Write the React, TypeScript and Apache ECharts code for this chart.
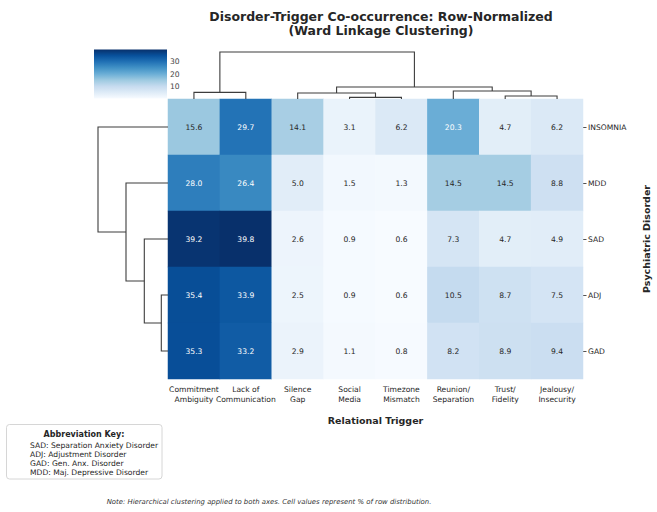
import React, { useEffect, useRef } from "react";
import * as echarts from "echarts";

// ---- data ----
const triggers = [
  "Commitment\nAmbiguity",
  "Lack of\nCommunication",
  "Silence\nGap",
  "Social\nMedia",
  "Timezone\nMismatch",
  "Reunion/\nSeparation",
  "Trust/\nFidelity",
  "Jealousy/\nInsecurity",
];
const disorders = ["INSOMNIA", "MDD", "SAD", "ADJ", "GAD"];
const insomniaRow = [15.6, 29.7, 14.1, 3.1, 6.2, 20.3, 4.7, 6.2];
const mddRow = [28.0, 26.4, 5.0, 1.5, 1.3, 14.5, 14.5, 8.8];
const sadRow = [39.2, 39.8, 2.6, 0.9, 0.6, 7.3, 4.7, 4.9];
const adjRow = [35.4, 33.9, 2.5, 0.9, 0.6, 10.5, 8.7, 7.5];
const gadRow = [35.3, 33.2, 2.9, 1.1, 0.8, 8.2, 8.9, 9.4];
const matrix = [insomniaRow, mddRow, sadRow, adjRow, gadRow];

// linkage: [childA, childB, distance]; leaves are in display order
const colLinkage = [
  [3, 4, 1.6],
  [6, 7, 3.0],
  [2, 8, 6.0],
  [0, 1, 6.6],
  [5, 9, 8.0],
  [10, 12, 12.0],
  [11, 13, 47.0],
];
const rowLinkage = [
  [3, 4, 6.7],
  [2, 5, 23.7],
  [1, 6, 42.0],
  [0, 7, 70.0],
];
const colorbarTicks = [10, 20, 30];
const abbreviations = [
  "SAD: Separation Anxiety Disorder",
  "ADJ: Adjustment Disorder",
  "GAD: Gen. Anx. Disorder",
  "MDD: Maj. Depressive Disorder",
];

const BLUES = ["#f7fbff", "#deebf7", "#c6dbef", "#9ecae1", "#6baed6", "#4292c6", "#2171b5", "#08519c", "#08306b"];
const TXT = "#262626";
const LINE = "#3d3d3d";

function hexToRgb(h: string) {
  return [parseInt(h.slice(1, 3), 16), parseInt(h.slice(3, 5), 16), parseInt(h.slice(5, 7), 16)];
}
function blues(t: number) {
  t = Math.max(0, Math.min(1, t));
  const s = t * (BLUES.length - 1);
  const i = Math.min(BLUES.length - 2, Math.floor(s));
  const f = s - i;
  const a = hexToRgb(BLUES[i]);
  const b = hexToRgb(BLUES[i + 1]);
  return a.map((v, k) => v + (b[k] - v) * f);
}
function luminance(rgb: number[]) {
  const c = rgb.map((v) => {
    const x = v / 255;
    return x <= 0.03928 ? x / 12.92 : Math.pow((x + 0.055) / 1.055, 2.4);
  });
  return 0.2126 * c[0] + 0.7152 * c[1] + 0.0722 * c[2];
}
function buildLinks(linkage: number[][], nLeaves: number) {
  const pos: number[] = [];
  const hts: number[] = [];
  for (let i = 0; i < nLeaves; i++) {
    pos[i] = i;
    hts[i] = 0;
  }
  return linkage.map(([a, b, h], k) => {
    const item = [pos[a], hts[a], pos[b], hts[b], h];
    pos[nLeaves + k] = (pos[a] + pos[b]) / 2;
    hts[nLeaves + k] = h;
    return item;
  });
}

export default function App() {
  const ref = useRef<HTMLDivElement>(null);
  useEffect(() => {
    if (!ref.current) return;
    const chart = echarts.init(ref.current, null, { renderer: "svg" });
    const all = matrix.flat();
    const vmin = Math.min(...all);
    const vmax = Math.max(...all);

    const heatData: any[] = [];
    matrix.forEach((row, r) =>
      row.forEach((v, c) => {
        const rgb = blues((v - vmin) / (vmax - vmin));
        const lum = luminance(rgb);
        heatData.push({
          value: [c, r, v],
          label: { color: lum > 0.408 ? TXT : "#ffffff" },
        });
      })
    );

    const colLinks = buildLinks(colLinkage, triggers.length);
    const rowLinks = buildLinks(rowLinkage, disorders.length);
    const colMax = Math.max(...colLinkage.map((l) => l[2])) * 1.05;
    const rowMax = Math.max(...rowLinkage.map((l) => l[2])) * 1.05;

    const font = "DejaVu Sans";

    chart.setOption({
      animation: false,
      backgroundColor: "#ffffff",
      textStyle: { fontFamily: font },
      title: {
        text: "Disorder-Trigger Co-occurrence: Row-Normalized\n(Ward Linkage Clustering)",
        left: 376,
        top: 4,
        textAlign: "center",
        textStyle: { fontFamily: font, fontSize: 12.5, fontWeight: "bold", color: TXT, lineHeight: 14 },
      },
      visualMap: {
        type: "continuous",
        show: false,
        seriesIndex: 0,
        dimension: 2,
        min: vmin,
        max: vmax,
        inRange: { color: BLUES },
      },
      grid: [
        { left: 168, top: 99, width: 415, height: 280 },
        { left: 168, top: 99 - 49.4, width: 415, height: 49.4 },
        { left: 168 - 73.5, top: 99, width: 73.5, height: 280 },
        { left: 94, top: 49.5, width: 73, height: 49 },
      ],
      xAxis: [
        {
          type: "category",
          gridIndex: 0,
          data: triggers,
          position: "bottom",
          axisLine: { show: false },
          axisTick: { show: false },
          splitLine: { show: false },
          axisLabel: { interval: 0, fontSize: 7.6, lineHeight: 9.5, color: TXT, margin: 6 },
          name: "Relational Trigger",
          nameLocation: "middle",
          nameGap: 36,
          nameTextStyle: { fontSize: 9.5, fontWeight: "bold", color: TXT },
        },
        { type: "value", gridIndex: 1, min: -0.5, max: triggers.length - 0.5, show: false },
        { type: "value", gridIndex: 2, min: 0, max: rowMax, inverse: true, show: false },
        { type: "value", gridIndex: 3, min: 0, max: 1, show: false },
      ],
      yAxis: [
        {
          type: "category",
          gridIndex: 0,
          data: disorders,
          inverse: true,
          position: "right",
          axisLine: { show: false },
          axisTick: { show: true, length: 3.5, lineStyle: { color: TXT, width: 0.8 }, alignWithLabel: true },
          splitLine: { show: false },
          axisLabel: { fontSize: 7.6, color: TXT, margin: 5 },
        },
        { type: "value", gridIndex: 1, min: 0, max: colMax, show: false },
        { type: "value", gridIndex: 2, min: -0.5, max: disorders.length - 0.5, inverse: true, show: false },
        {
          type: "value",
          gridIndex: 3,
          min: vmin,
          max: vmax,
          position: "right",
          axisLine: { show: false },
          splitLine: { show: false },
          axisTick: { show: true, length: 3.5, customValues: colorbarTicks, lineStyle: { color: "#444444", width: 0.8 } },
          axisLabel: { show: true, customValues: colorbarTicks, fontSize: 7.6, color: "#444444", margin: 3 },
        },
      ],
      series: [
        {
          type: "heatmap",
          xAxisIndex: 0,
          yAxisIndex: 0,
          data: heatData,
          label: {
            show: true,
            fontSize: 7.6,
            formatter: (p: any) => p.value[2].toFixed(1),
          },
          emphasis: { disabled: true },
        },
        {
          type: "custom",
          xAxisIndex: 1,
          yAxisIndex: 1,
          data: colLinks,
          renderItem: (params: any, api: any) => {
            const x1 = api.value(0), h1 = api.value(1), x2 = api.value(2), h2 = api.value(3), h = api.value(4);
            return {
              type: "polyline",
              shape: { points: [api.coord([x1, h1]), api.coord([x1, h]), api.coord([x2, h]), api.coord([x2, h2])] },
              style: { stroke: LINE, lineWidth: 1.1, fill: null },
            };
          },
        },
        {
          type: "custom",
          xAxisIndex: 2,
          yAxisIndex: 2,
          data: rowLinks,
          renderItem: (params: any, api: any) => {
            const y1 = api.value(0), h1 = api.value(1), y2 = api.value(2), h2 = api.value(3), h = api.value(4);
            return {
              type: "polyline",
              shape: { points: [api.coord([h1, y1]), api.coord([h, y1]), api.coord([h, y2]), api.coord([h2, y2])] },
              style: { stroke: LINE, lineWidth: 1.1, fill: null },
            };
          },
        },
        {
          type: "custom",
          xAxisIndex: 3,
          yAxisIndex: 3,
          data: [[0, vmin, 1, vmax]],
          renderItem: (params: any, api: any) => {
            const p0 = api.coord([api.value(0), api.value(3)]);
            const p1 = api.coord([api.value(2), api.value(1)]);
            const stops = BLUES.map((c, i) => ({ offset: 1 - i / (BLUES.length - 1), color: c })).reverse();
            return {
              type: "rect",
              shape: { x: p0[0], y: p0[1], width: p1[0] - p0[0], height: p1[1] - p0[1] },
              style: { fill: new echarts.graphic.LinearGradient(0, 0, 0, 1, stops) },
            };
          },
        },
      ],
      graphic: [
        {
          type: "text",
          x: 646,
          y: 239,
          rotation: Math.PI / 2,
          style: {
            text: "Psychiatric Disorder",
            fontFamily: font,
            fontSize: 9.5,
            fontWeight: "bold",
            fill: TXT,
            align: "center",
            verticalAlign: "middle",
          },
        },
        {
          type: "rect",
          shape: { x: 6.5, y: 424.5, width: 155.5, height: 54.5, r: 3 },
          style: { fill: "#ffffff", stroke: "#cccccc", lineWidth: 0.8 },
        },
        {
          type: "text",
          x: 84,
          y: 434,
          style: {
            text: "Abbreviation Key:",
            fontFamily: font,
            fontSize: 8,
            fontWeight: "bold",
            fill: TXT,
            align: "center",
            verticalAlign: "middle",
          },
        },
        ...abbreviations.map((t, i) => ({
          type: "text",
          x: 30,
          y: 445 + i * 9,
          style: { text: t, fontFamily: font, fontSize: 7.6, fill: TXT, align: "left", verticalAlign: "middle" },
        })),
        {
          type: "text",
          x: 269,
          y: 502,
          style: {
            text: "Note: Hierarchical clustering applied to both axes. Cell values represent % of row distribution.",
            fontFamily: font,
            fontSize: 6.9,
            fontStyle: "italic",
            fill: "#333333",
            align: "center",
            verticalAlign: "middle",
          },
        },
      ],
    });
    return () => chart.dispose();
  }, []);
  return <div ref={ref} style={{ position: "fixed", left: 0, top: 0, width: 657, height: 512 }} />;
}
